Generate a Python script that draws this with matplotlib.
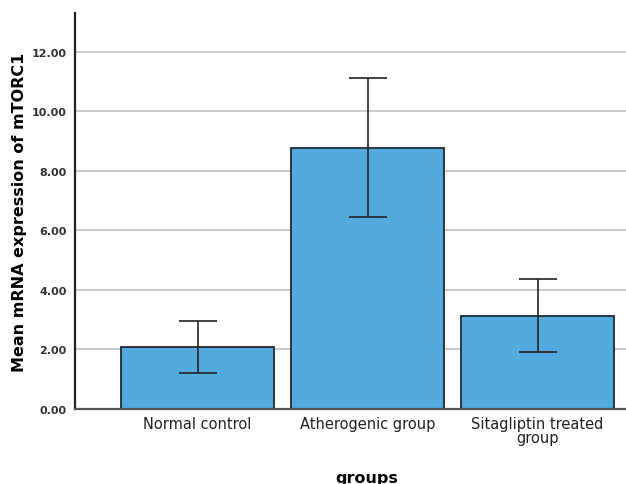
import matplotlib.pyplot as plt
import numpy as np

groups = ["Normal control", "Atherogenic group", "Sitagliptin treated\ngroup"]
means = [2.08, 8.77, 3.13]
ci_low = [1.20, 6.45, 1.92]
ci_high = [2.97, 11.13, 4.37]
yticks = [0, 2, 4, 6, 8, 10, 12]

fig = plt.figure(figsize=(6.26, 4.85), dpi=100)
ax = fig.add_axes([0.12, 0.1546, 0.88, 0.8165])

x = np.arange(len(groups))
m = np.array(means)
yerr = [m - np.array(ci_low), np.array(ci_high) - m]

ax.set_axisbelow(True)
ax.grid(axis="y", color="#c4c4c4", linewidth=1.2)
ax.bar(x, means, width=0.9, color="#52aade", edgecolor="#1f2a30", linewidth=1.3, zorder=2)
ax.errorbar(x, means, yerr=yerr, fmt="none", ecolor="#222222", elinewidth=1.2,
            capsize=14, capthick=1.2, zorder=3)

ax.set_xlim(-0.72, 2.52)
ax.set_ylim(0, 13.3)
ax.set_yticks(yticks)
ax.set_yticklabels([f"{v:.2f}" for v in yticks], fontsize=8, color="#333333", fontweight="bold")
ax.set_xticks(x)
ax.set_xticklabels(groups, fontsize=10.5, color="#222222", linespacing=0.95)
ax.tick_params(axis="both", length=0, pad=5)
ax.tick_params(axis="y", pad=6)

for s in ["top", "right"]:
    ax.spines[s].set_visible(False)
ax.spines["left"].set_color("#222222")
ax.spines["left"].set_linewidth(1.6)
ax.spines["bottom"].set_color("#555555")
ax.spines["bottom"].set_linewidth(1.6)

ax.set_ylabel("Mean mRNA expression of mTORC1", fontsize=11.5, fontweight="bold")
ax.yaxis.set_label_coords(-0.088, 0.5)
ax.set_xlabel("groups", fontsize=11.5, fontweight="bold")
ax.xaxis.set_label_coords(0.53, -0.155)

fig.savefig("out.png", dpi=100)
